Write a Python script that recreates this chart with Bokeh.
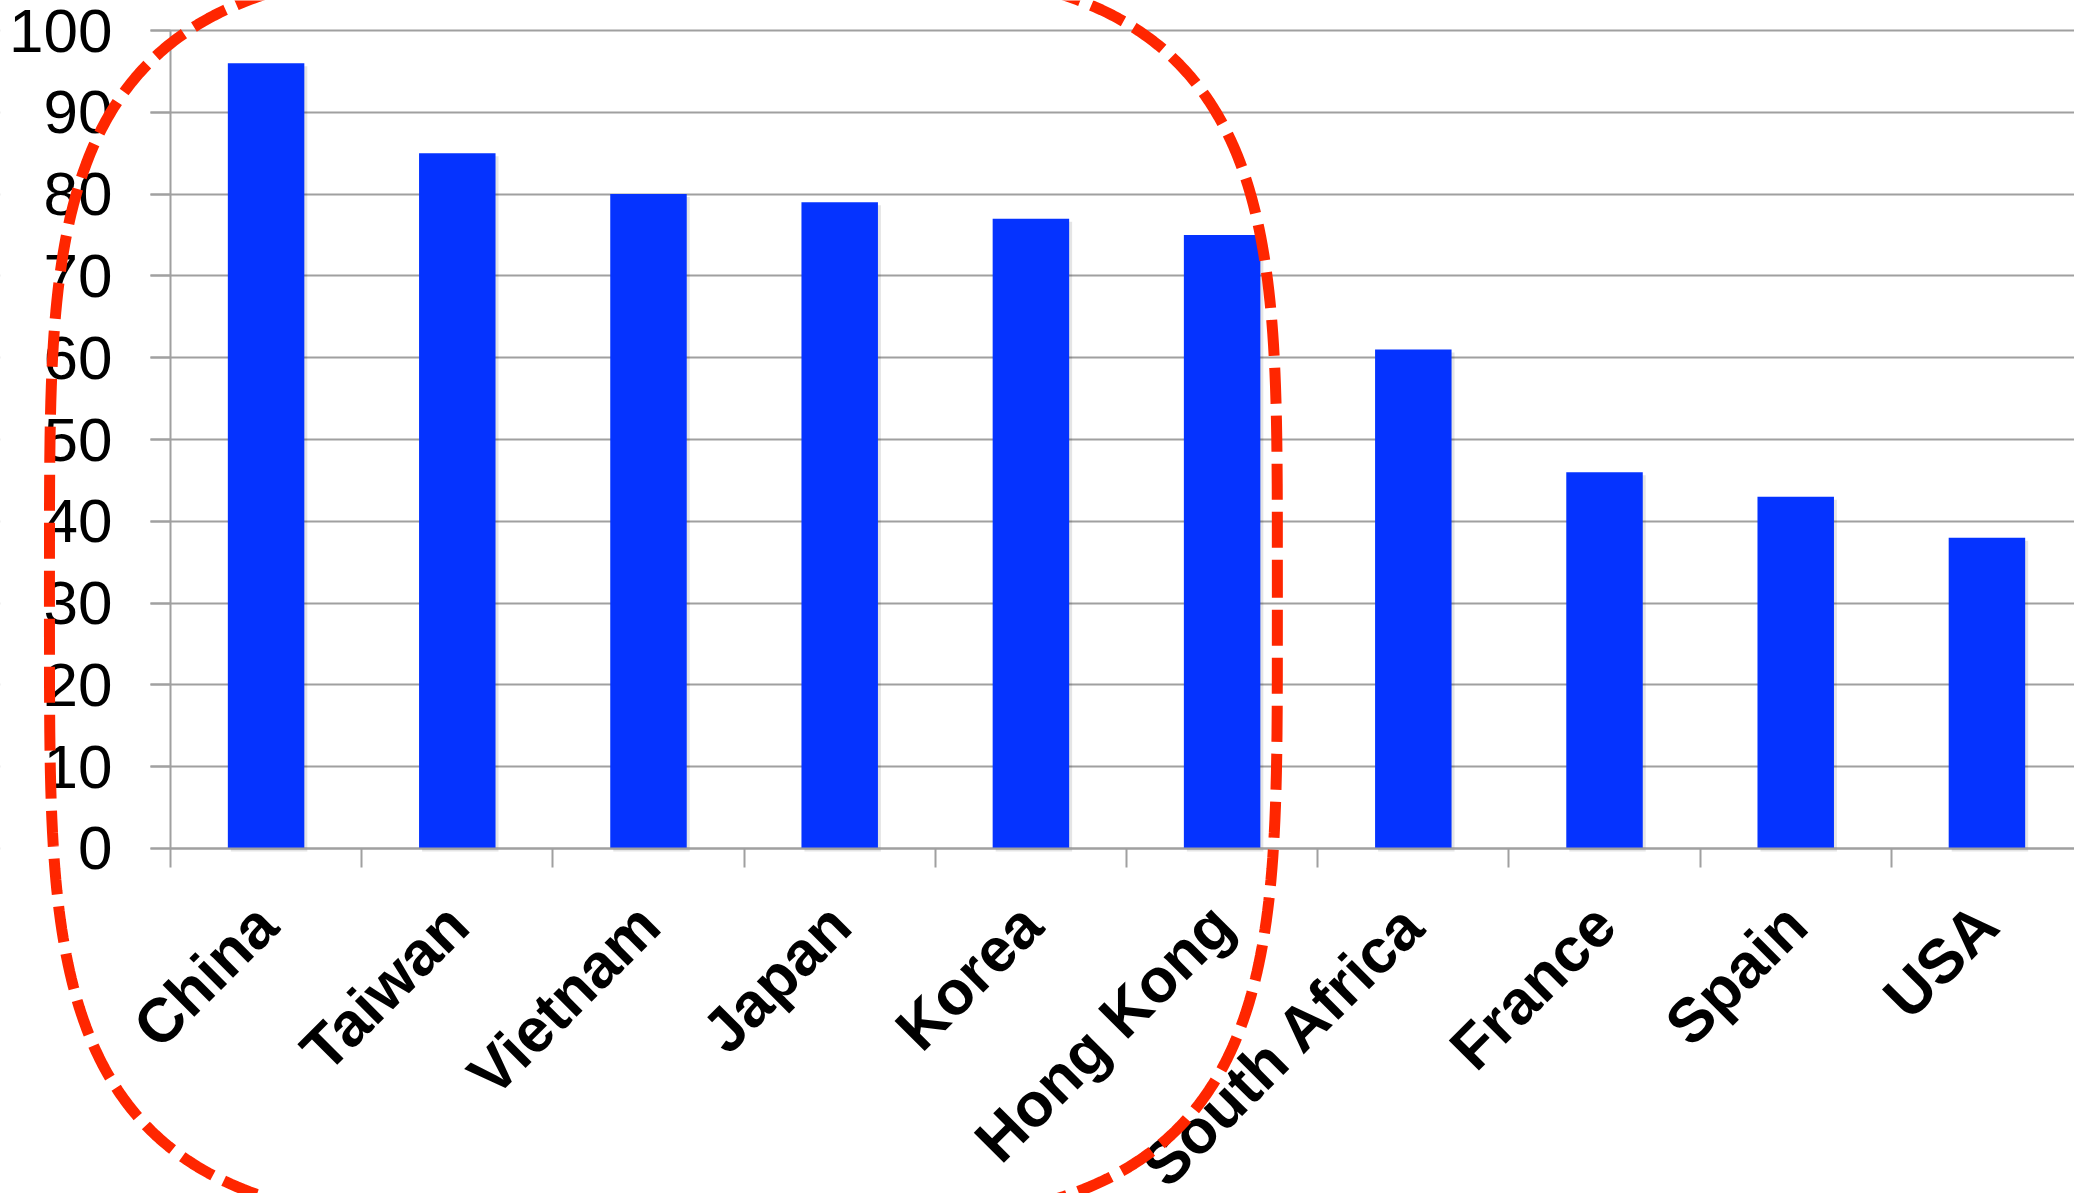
import numpy as np
from math import pi
from bokeh.plotting import figure
from bokeh.models import Range1d, FixedTicker, PolyAnnotation, BoxAnnotation
from bokeh.embed import file_html
from bokeh.resources import INLINE

# ---- data ----
countries = ["China", "Taiwan", "Vietnam", "Japan", "Korea", "Hong Kong",
             "South Africa", "France", "Spain", "USA"]
values = [96, 85, 80, 79, 77, 75, 61, 46, 43, 38]
y_ticks = [0, 10, 20, 30, 40, 50, 60, 70, 80, 90, 100]

positions = list(range(1, len(countries) + 1))
boundaries = [i + 0.5 for i in range(0, len(countries) + 1)]

GRID = "#a0a0a0"
FONT = "Liberation Sans"
W, H = 2074, 1193

# frame covers the whole canvas; axes are pinned with fixed_location
X0, X1 = -0.389, 10.458
Y0, Y1 = -42.18, 103.67
PX_X = W / (X1 - X0)   # pixels per x unit
PX_Y = H / (Y1 - Y0)   # pixels per y unit

p = figure(width=W, height=H, output_backend="svg", toolbar_location=None,
           x_range=Range1d(X0, X1), y_range=Range1d(Y0, Y1), min_border=0)
p.outline_line_color = None
p.background_fill_color = "white"

# soft shadow behind the bars
shadow_top = [v - 3 / PX_Y for v in values]
p.vbar(x=[x + 3 / PX_X for x in positions], top=shadow_top, bottom=-3 / PX_Y,
       width=0.4, fill_color="black", fill_alpha=0.10, line_color=None)
p.vbar(x=positions, top=values, width=0.4, fill_color="#0533FF", line_color=None)

# x axis
xa = p.xaxis[0]
xa.fixed_location = 0
xa.bounds = (0.5, X1)
xa.ticker = FixedTicker(ticks=positions, minor_ticks=boundaries)
xa.major_label_overrides = {pos: c for pos, c in zip(positions, countries)}
xa.major_tick_line_color = None
xa.major_tick_out = 0
xa.major_tick_in = 0
xa.minor_tick_out = 19
xa.minor_tick_in = 0
xa.minor_tick_line_color = GRID
xa.minor_tick_line_width = 2
xa.axis_line_color = GRID
xa.axis_line_width = 2
xa.major_label_orientation = pi / 4
xa.major_label_standoff = 47
xa.major_label_text_font = FONT
xa.major_label_text_font_style = "bold"
xa.major_label_text_font_size = "62px"
xa.major_label_text_color = "black"

# y axis
ya = p.yaxis[0]
ya.fixed_location = 0.5
ya.bounds = (0, 100)
ya.ticker = FixedTicker(ticks=y_ticks)
ya.major_tick_out = 20
ya.major_tick_in = 0
ya.major_tick_line_color = GRID
ya.major_tick_line_width = 2
ya.minor_tick_line_color = None
ya.axis_line_color = GRID
ya.axis_line_width = 2
ya.major_label_standoff = 38
ya.major_label_text_font = FONT
ya.major_label_text_font_size = "62px"
ya.major_label_text_color = "black"

p.xgrid.grid_line_color = None
p.ygrid.grid_line_color = GRID
p.ygrid.grid_line_width = 2

# keep the grid lines from running left of the y-axis tick marks
mask = BoxAnnotation(left=X0 - 1, right=0.5 - 20 / PX_X, fill_color="white",
                     fill_alpha=1.0, line_color=None, level="underlay")
p.add_layout(mask)

# red dashed highlight (rounded oval), in data units
cx, cy, ax, by, n = 3.078, 30.9, 3.211, 77.2, 4.0
t = np.linspace(0, 2 * pi, 400, endpoint=False)
ex = cx + ax * np.sign(np.cos(t)) * np.abs(np.cos(t)) ** (2 / n)
ey = cy + by * np.sign(np.sin(t)) * np.abs(np.sin(t)) ** (2 / n)
oval = PolyAnnotation(xs=list(ex), ys=list(ey), xs_units="data", ys_units="data",
                      fill_alpha=0, line_color="#FF2600", line_alpha=1.0,
                      line_width=11, line_dash="36 12")
p.add_layout(oval)

open("out.html", "w").write(file_html(p, INLINE))
